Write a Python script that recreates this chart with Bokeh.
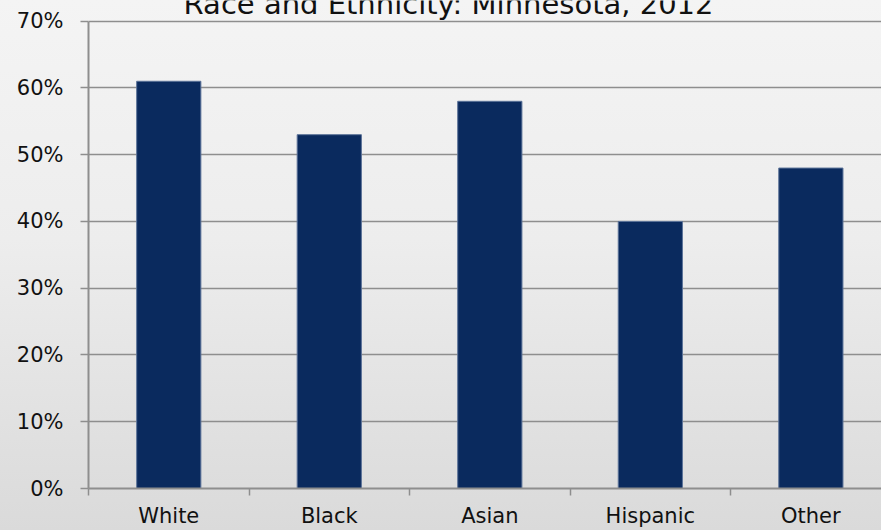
from bokeh.plotting import figure
from bokeh.models import Range1d, FixedTicker, PrintfTickFormatter
from bokeh.core.properties import value
from bokeh.embed import file_html
from bokeh.resources import INLINE

# Share of population by race and ethnicity, Minnesota 2012 (percent)
categories = ["White", "Black", "Asian", "Hispanic", "Other"]
shares = [61, 53, 58, 40, 48]
y_ticks = [0, 10, 20, 30, 40, 50, 60, 70]
title_text = "Race and Ethnicity: Minnesota, 2012"

FONT = "DejaVu Sans"
GRID = "#8E8E8E"
BAR = "#0A2A5E"

centers = [i + 0.5 for i in range(len(categories))]
bounds = list(range(len(categories) + 1))

# the frame reaches the top edge; the 70% line sits a little below it
p = figure(
    width=881, height=530,
    output_backend="svg", toolbar_location=None,
    x_range=Range1d(0, 4.94), y_range=Range1d(0, 73.1),
    min_border_left=88, min_border_right=0,
    min_border_top=0, min_border_bottom=41,
)
p.background_fill_color = None
p.border_fill_color = None
p.outline_line_color = None
p.styles = {"background": "linear-gradient(to bottom, #F4F4F4 0%, #EDEDED 45%, #DADADA 100%)"}

p.vbar(x=centers, top=shares, width=0.4, fill_color=BAR,
       line_color="#5C7399", line_width=1)

# title, partly running past the top edge
p.text(x=[2.243], y=[72.55], text=[title_text], text_align="center",
       text_baseline="alphabetic", text_font=value(FONT),
       text_font_size="29px", text_color="#111111")

# y axis: percentage ticks with gridlines
p.yaxis.ticker = FixedTicker(ticks=y_ticks)
p.yaxis.bounds = (0, 70)
p.yaxis.formatter = PrintfTickFormatter(format="%d%%")
p.yaxis.axis_line_color = GRID
p.yaxis.axis_line_width = 2
p.yaxis.major_tick_line_color = GRID
p.yaxis.major_tick_line_width = 1.5
p.yaxis.major_tick_out = 8
p.yaxis.major_tick_in = 0
p.yaxis.minor_tick_line_color = None
p.yaxis.major_label_standoff = 17
p.yaxis.major_label_text_font = FONT
p.yaxis.major_label_text_font_size = "21px"
p.yaxis.major_label_text_color = "#111111"

p.ygrid.ticker = FixedTicker(ticks=y_ticks)
p.ygrid.grid_line_color = GRID
p.ygrid.grid_line_width = 1.5
p.xgrid.grid_line_color = None

# x axis: labels at category centres, tick marks at category boundaries
p.xaxis.ticker = FixedTicker(ticks=centers, minor_ticks=bounds)
p.xaxis.major_label_overrides = {c: name for c, name in zip(centers, categories)}
p.xaxis.axis_line_color = GRID
p.xaxis.axis_line_width = 2
p.xaxis.major_tick_line_color = None
p.xaxis.major_tick_out = 0
p.xaxis.major_tick_in = 0
p.xaxis.minor_tick_line_color = GRID
p.xaxis.minor_tick_line_width = 1.5
p.xaxis.minor_tick_out = 7
p.xaxis.minor_tick_in = 0
p.xaxis.major_label_standoff = 8
p.xaxis.major_label_text_font = FONT
p.xaxis.major_label_text_font_size = "21px"
p.xaxis.major_label_text_color = "#111111"

open("out.html", "w").write(file_html(p, INLINE))
